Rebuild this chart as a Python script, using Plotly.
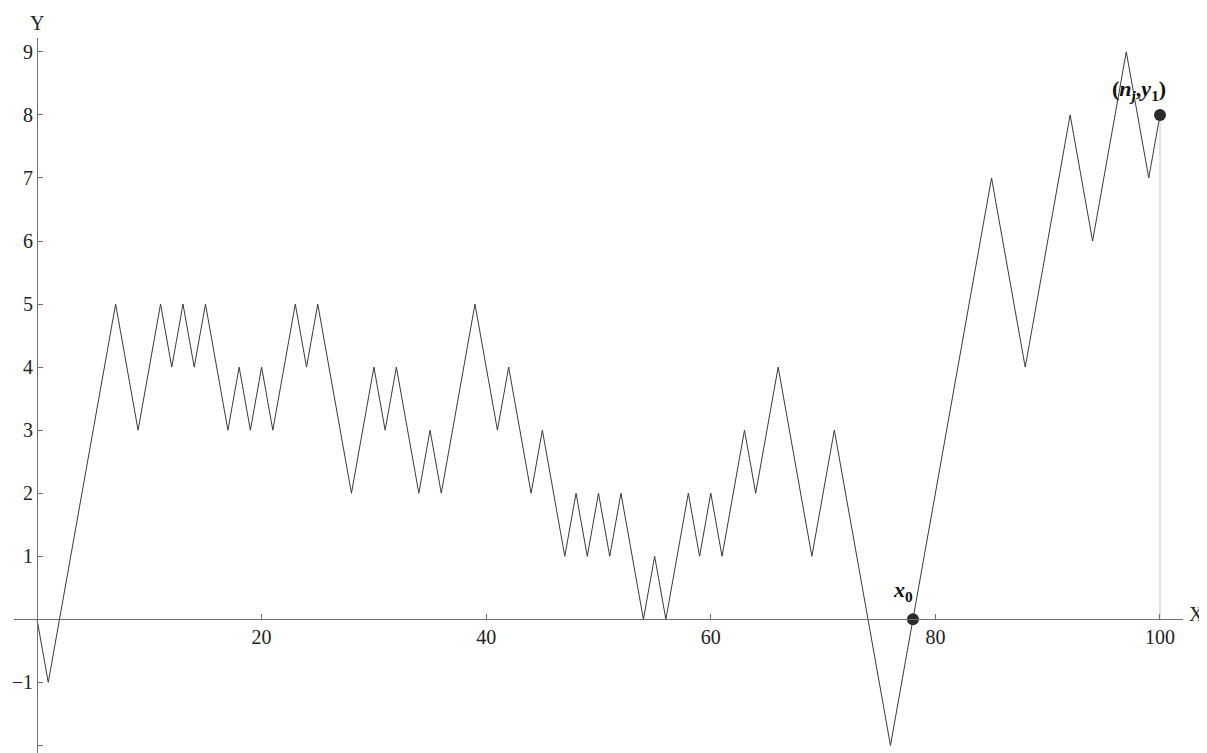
import plotly.graph_objects as go

# Random walk turning points (step index, height)
turn_x = [0, 1, 7, 9, 11, 12, 13, 14, 15, 17, 18, 19, 20, 21, 23, 24, 25, 28, 30, 31, 32, 34, 35, 36,
          39, 41, 42, 44, 45, 47, 48, 49, 50, 51, 52, 54, 55, 56, 58, 59, 60, 61, 63, 64, 66, 69, 71,
          76, 85, 88, 92, 94, 97, 99, 100]
turn_y = [0, -1, 5, 3, 5, 4, 5, 4, 5, 3, 4, 3, 4, 3, 5, 4, 5, 2, 4, 3, 4, 2, 3, 2,
          5, 3, 4, 2, 3, 1, 2, 1, 2, 1, 2, 0, 1, 0, 2, 1, 2, 1, 3, 2, 4, 1, 3,
          -2, 7, 4, 8, 6, 9, 7, 8]

point_x = [78, 100]
point_y = [0, 8]
point_labels = ["<b><i>x</i><sub>0</sub></b>", "<b>(<i>n</i><sub><i>j</i></sub>,<i>y</i><sub>1</sub>)</b>"]

x_ticks = [20, 40, 60, 80, 100]
y_ticks = [-2, -1, 1, 2, 3, 4, 5, 6, 7, 8, 9]
y_tick_text = ["\u22122", "\u22121", "1", "2", "3", "4", "5", "6", "7", "8", "9"]

XR = [-2.05, 102.05]
YR = [-2.12, 9.22]

font = "Liberation Serif"

fig = go.Figure()

# vertical drop line at the end point
fig.add_trace(go.Scatter(x=[point_x[1], point_x[1]], y=[0, point_y[1]], mode="lines",
                         line=dict(color="#dcdcdc", width=1.5), hoverinfo="skip", showlegend=False))

fig.add_trace(go.Scatter(x=turn_x, y=turn_y, mode="lines",
                         line=dict(color="#3a3a3a", width=1), showlegend=False))

fig.add_trace(go.Scatter(x=point_x, y=point_y, mode="markers",
                         marker=dict(color="#2b2b2b", size=12), showlegend=False))

fig.add_annotation(x=point_x[0], y=point_y[0], text=point_labels[0], showarrow=False,
                   xanchor="right", yanchor="bottom", xshift=2, yshift=12,
                   font=dict(family=font, size=22, color="#111"))
fig.add_annotation(x=point_x[1], y=point_y[1], text=point_labels[1], showarrow=False,
                   xanchor="right", yanchor="bottom", xshift=8, yshift=9,
                   font=dict(family=font, size=22, color="#111"))

# axis labels
fig.add_annotation(x=XR[1], y=0, text="X", showarrow=False, xanchor="left", yanchor="middle",
                   xshift=4, yshift=5, font=dict(family=font, size=20, color="#222"))
fig.add_annotation(x=0, y=YR[1], text="Y", showarrow=False, xanchor="center", yanchor="bottom",
                   yshift=2, font=dict(family=font, size=20, color="#222"))

ypos = (0 - YR[0]) / (YR[1] - YR[0])
xpos = (0 - XR[0]) / (XR[1] - XR[0])

fig.update_layout(
    width=1199, height=745,
    margin=dict(l=6, r=24, t=30, b=0),
    paper_bgcolor="white", plot_bgcolor="white",
    font=dict(family=font, size=20, color="#222"),
    xaxis=dict(range=XR, anchor="free", position=ypos, showgrid=False, zeroline=False,
               automargin=False,
               showline=True, linecolor="#707070", linewidth=1.2,
               tickvals=x_ticks, ticktext=[str(v) for v in x_ticks],
               ticks="inside", ticklen=5, tickcolor="#707070", tickwidth=1,
               tickfont=dict(family=font, size=20, color="#222")),
    yaxis=dict(range=YR, anchor="free", position=xpos, showgrid=False, zeroline=False,
               automargin=False,
               showline=True, linecolor="#707070", linewidth=1.2,
               tickvals=y_ticks, ticktext=y_tick_text,
               ticks="inside", ticklen=5, tickcolor="#707070", tickwidth=1,
               tickfont=dict(family=font, size=20, color="#222")),
)

fig.write_html("out.html")
